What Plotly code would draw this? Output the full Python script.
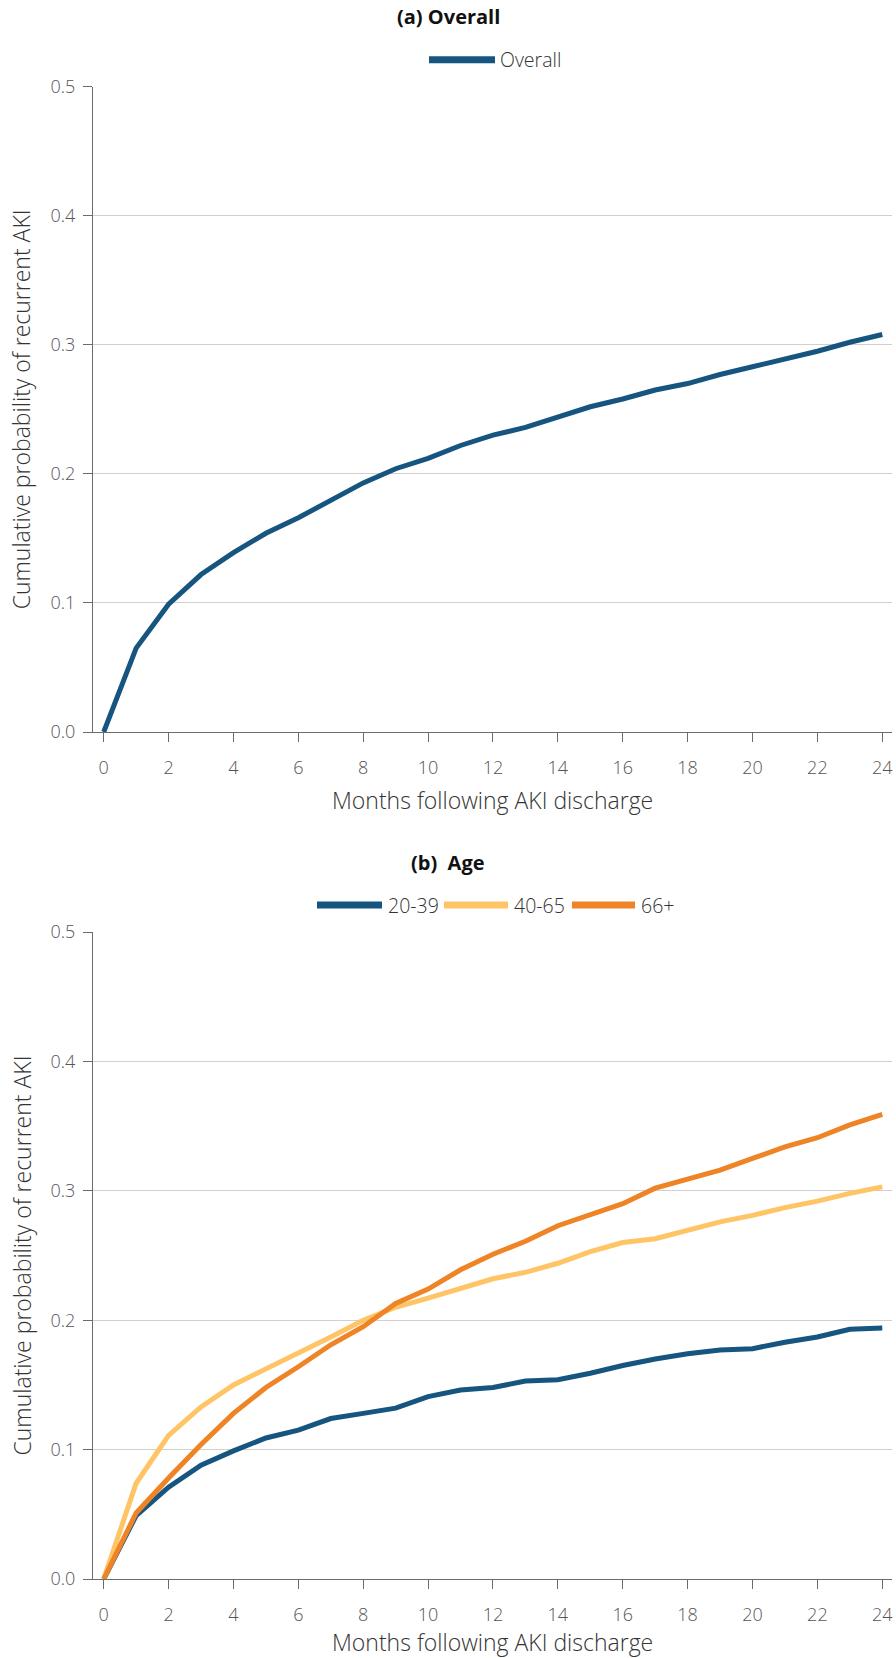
import plotly.graph_objects as go

# ---- data -------------------------------------------------------------
months = list(range(0, 25))

overall = [0.000, 0.065, 0.099, 0.122, 0.139, 0.154, 0.166, 0.180, 0.193,
           0.204, 0.212, 0.222, 0.230, 0.236, 0.244, 0.252, 0.258, 0.265,
           0.270, 0.277, 0.283, 0.289, 0.295, 0.302, 0.308]

age_20_39 = [0.000, 0.049, 0.071, 0.088, 0.099, 0.109, 0.115, 0.124, 0.128,
             0.132, 0.141, 0.146, 0.148, 0.153, 0.154, 0.159, 0.165, 0.170,
             0.174, 0.177, 0.178, 0.183, 0.187, 0.193, 0.194]

age_40_65 = [0.000, 0.074, 0.111, 0.133, 0.150, 0.162, 0.174, 0.187, 0.200,
             0.210, 0.217, 0.225, 0.232, 0.237, 0.244, 0.253, 0.260, 0.263,
             0.269, 0.276, 0.281, 0.287, 0.292, 0.298, 0.303]

age_66_plus = [0.000, 0.051, 0.078, 0.104, 0.128, 0.148, 0.164, 0.181, 0.195,
               0.213, 0.224, 0.239, 0.251, 0.261, 0.273, 0.282, 0.290, 0.302,
               0.309, 0.316, 0.325, 0.334, 0.341, 0.351, 0.359]

x_ticks = list(range(0, 25, 2))
y_ticks = [0.0, 0.1, 0.2, 0.3, 0.4, 0.5]

panel_a_title = "(a) Overall"
panel_b_title = "(b)  Age"
x_title = "Months following AKI discharge"
y_title = "Cumulative probability of recurrent AKI"

# ---- styling ----------------------------------------------------------
W, H = 896, 1658
BLUE = "#16557f"
LIGHT = "#ffc466"
ORANGE = "#ee8425"
FONT = "Open Sans"
LINE_W = 5

panel_a_series = [("Overall", overall, BLUE)]
panel_b_series = [("20-39", age_20_39, BLUE),
                  ("40-65", age_40_65, LIGHT),
                  ("66+", age_66_plus, ORANGE)]

# plot-area pixel boxes (left, right, top, bottom)
PX_L, PX_R = 93, 892
PANEL_A = (86.7, 732.0)
PANEL_B = (932.0, 1579.0)


def px_x(p):
    return p / W


def px_y(p):
    return 1 - p / H


fig = go.Figure()

for name, vals, col in panel_a_series:
    fig.add_trace(go.Scatter(x=months, y=vals, name=name, mode="lines",
                             line=dict(color=col, width=LINE_W),
                             xaxis="x", yaxis="y", showlegend=False))
for name, vals, col in panel_b_series:
    fig.add_trace(go.Scatter(x=months, y=vals, name=name, mode="lines",
                             line=dict(color=col, width=LINE_W),
                             xaxis="x2", yaxis="y2", showlegend=False))

axis_common = dict(
    showline=True, linecolor="#6b6b6b", linewidth=1.2,
    ticks="outside", ticklen=9, tickcolor="#6b6b6b", tickwidth=1.2,
    tickfont=dict(family=FONT, size=18, color="#555555", weight=300),
    zeroline=False, automargin=False,
)

x_common = dict(axis_common, range=[-0.33, 24.3], tickvals=x_ticks,
                showgrid=False, domain=[px_x(PX_L), px_x(PX_R)],
                ticklabelstandoff=10)
y_common = dict(axis_common, range=[0, 0.5], tickvals=y_ticks,
                tickformat=".1f", showgrid=True, gridcolor="#d2cfcf",
                gridwidth=1.2, ticklabelstandoff=4)

fig.update_layout(
    width=W, height=H, autosize=False,
    margin=dict(l=0, r=0, t=0, b=0, pad=0),
    paper_bgcolor="white", plot_bgcolor="white",
    showlegend=False,
    xaxis=dict(x_common, anchor="y"),
    yaxis=dict(y_common, anchor="x",
               domain=[px_y(PANEL_A[1]), px_y(PANEL_A[0])]),
    xaxis2=dict(x_common, anchor="y2"),
    yaxis2=dict(y_common, anchor="x2",
                domain=[px_y(PANEL_B[1]), px_y(PANEL_B[0])]),
)

annotations = []
shapes = []

for (top, bottom), title, series in [(PANEL_A, panel_a_title, panel_a_series),
                                      (PANEL_B, panel_b_title, panel_b_series)]:
    # panel heading
    annotations.append(dict(
        text=f"<b>{title}</b>", xref="paper", yref="paper",
        x=0.5, y=px_y(top - 70), xanchor="center", yanchor="middle",
        showarrow=False, font=dict(family=FONT, size=20, color="#111111")))
    # x-axis title (kept inside the page at the bottom edge)
    title_y = min(bottom + 68, H - 16)
    annotations.append(dict(
        text=x_title, xref="paper", yref="paper",
        x=px_x((PX_L + PX_R) / 2), y=px_y(title_y),
        xanchor="center", yanchor="middle", showarrow=False,
        font=dict(family=FONT, size=23, color="#333333", weight=300)))
    # y-axis title
    annotations.append(dict(
        text=y_title, xref="paper", yref="paper", textangle=-90,
        x=px_x(21), y=px_y((top + bottom) / 2),
        xanchor="center", yanchor="middle", showarrow=False,
        font=dict(family=FONT, size=23, color="#333333", weight=300)))

# legend rows: sample line then label
legend_a = [(429, 495, 498)]
legend_b = [(317, 382, 386), (444, 508, 512), (572, 635, 639)]
for (top, _), series, slots in [(PANEL_A, panel_a_series, legend_a),
                                (PANEL_B, panel_b_series, legend_b)]:
    ly = px_y(top - 27)
    for (name, _, col), (x0, x1, tx) in zip(series, slots):
        shapes.append(dict(type="line", xref="paper", yref="paper",
                           x0=px_x(x0), x1=px_x(x1), y0=ly, y1=ly,
                           line=dict(color=col, width=7)))
        annotations.append(dict(
            text=name, xref="paper", yref="paper", x=px_x(tx), y=ly,
            xanchor="left", yanchor="middle", showarrow=False,
            font=dict(family=FONT, size=19.5, color="#333333", weight=300)))

fig.update_layout(annotations=annotations, shapes=shapes)

fig.write_html("out.html")
